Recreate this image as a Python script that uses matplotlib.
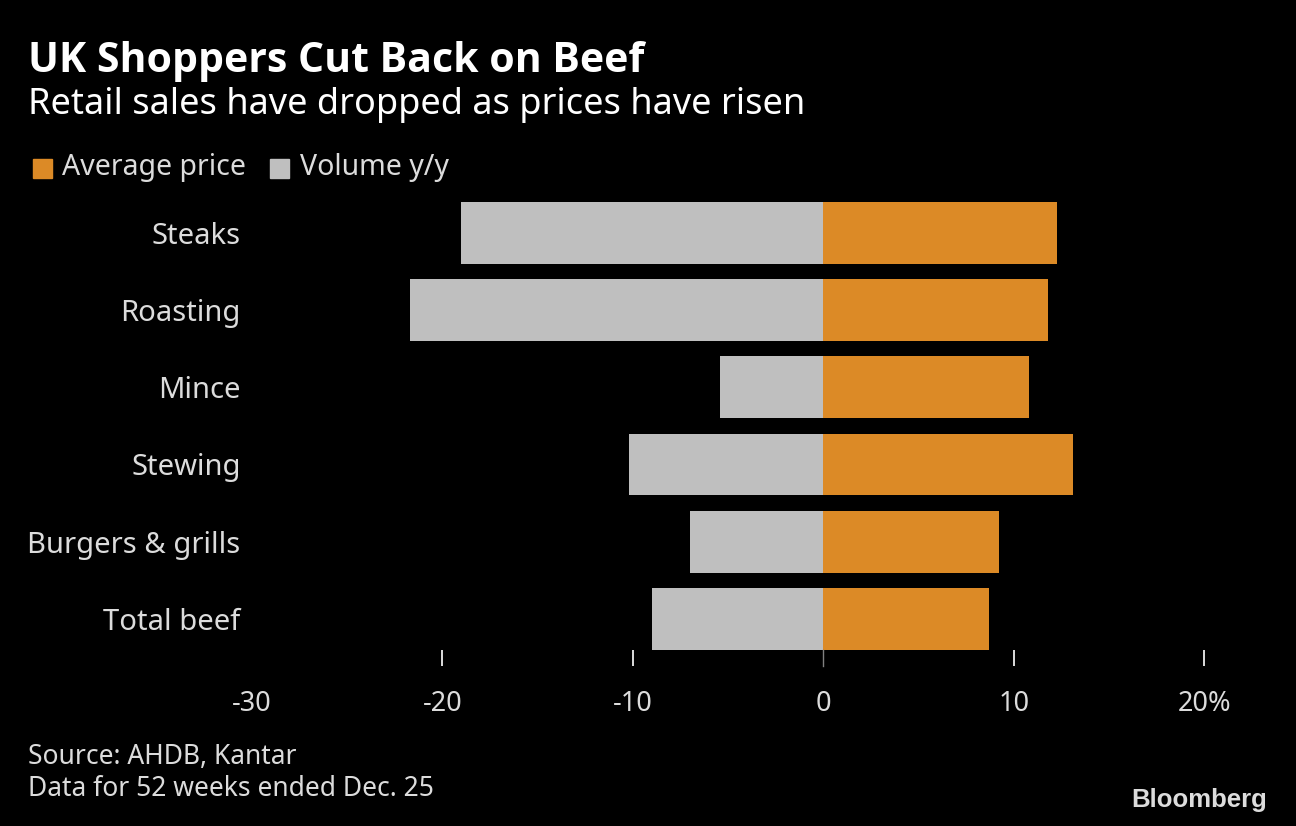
import numpy as np
import matplotlib
matplotlib.use('Agg')
import matplotlib.pyplot as plt

categorie = ['Steaks', 'Roasting', 'Mince', 'Stewing', 'Burgers & grills', 'Total beef']
prezzo_medio = [12.25, 11.8, 10.8, 13.1, 9.2, 8.7]     # Average price, % y/y
volume = [-19.0, -21.7, -5.4, -10.2, -7.0, -9.0]       # Volume y/y, %
tick_valori = [-30, -20, -10, 0, 10, 20]
tick_etichette = ['-30', '-20', '-10', '0', '10', '20%']

ARANCIO = '#DC8A26'
GRIGIO = '#BFBFBF'
TESTO = '#DCDCDC'

plt.rcParams['font.family'] = ['Noto Sans', 'DejaVu Sans']

fig = plt.figure(figsize=(12.96, 8.26), dpi=100, facecolor='black')
ax = fig.add_axes([251.8/1296, (826-650)/826, 952.5/1296, 448.3/826])
ax.set_facecolor('black')

y = np.arange(len(categorie))
ax.barh(y, volume, height=0.8, color=GRIGIO, label='Volume y/y')
ax.barh(y, prezzo_medio, height=0.8, color=ARANCIO, label='Average price')

ax.set_xlim(-30, 20)
ax.set_ylim(len(categorie) - 0.6, -0.4)
for s in ax.spines.values():
    s.set_visible(False)

ax.set_yticks(y)
ax.set_yticklabels(categorie, color=TESTO, fontsize=21)
ax.tick_params(axis='y', length=0, pad=8)

ax.set_xticks(tick_valori)
ax.set_xticklabels(tick_etichette, color=TESTO, fontsize=19.5)
ax.tick_params(axis='x', which='major', length=0, pad=29)
ax.xaxis.remove_overlapping_locs = False
ax.set_xticks([-20, -10, 10, 20], minor=True)
ax.tick_params(axis='x', which='minor', length=11.5, width=1.4, color=TESTO, direction='out')
ax.axvline(0, ymin=-0.035, ymax=0, color='#808080', lw=1, clip_on=False)

# titolo e sottotitolo
fig.text(28/1296, 1 - 62/826, 'UK Shoppers Cut Back on Beef', color='white',
         fontsize=29.5, fontweight='bold', va='center', ha='left',
         family=['Open Sans', 'DejaVu Sans'])
fig.text(28/1296, 1 - 105/826, 'Retail sales have dropped as prices have risen', color='white',
         fontsize=26, va='center', ha='left')

# legenda
fig.patches.append(plt.Rectangle((33/1296, 1 - 178/826), 19/1296, 19/826, color=ARANCIO,
                                 transform=fig.transFigure, figure=fig))
fig.text(62/1296, 1 - 168/826, 'Average price', color=TESTO, fontsize=20.5, va='center', ha='left')
fig.patches.append(plt.Rectangle((270/1296, 1 - 178/826), 19/1296, 19/826, color=GRIGIO,
                                 transform=fig.transFigure, figure=fig))
fig.text(300/1296, 1 - 168/826, 'Volume y/y', color=TESTO, fontsize=20.5, va='center', ha='left')

# note
fig.text(28/1296, 1 - 757/826, 'Source: AHDB, Kantar', color=TESTO, fontsize=19, va='center', ha='left')
fig.text(28/1296, 1 - 789/826, 'Data for 52 weeks ended Dec. 25', color=TESTO, fontsize=19,
         va='center', ha='left')
fig.text(1267/1296, 1 - 800/826, 'Bloomberg', color=TESTO, fontsize=18.5, fontweight='bold',
         va='center', ha='right', family=['Liberation Sans Narrow', 'Liberation Sans', 'DejaVu Sans'])

fig.savefig('out.png', dpi=100, facecolor='black')
